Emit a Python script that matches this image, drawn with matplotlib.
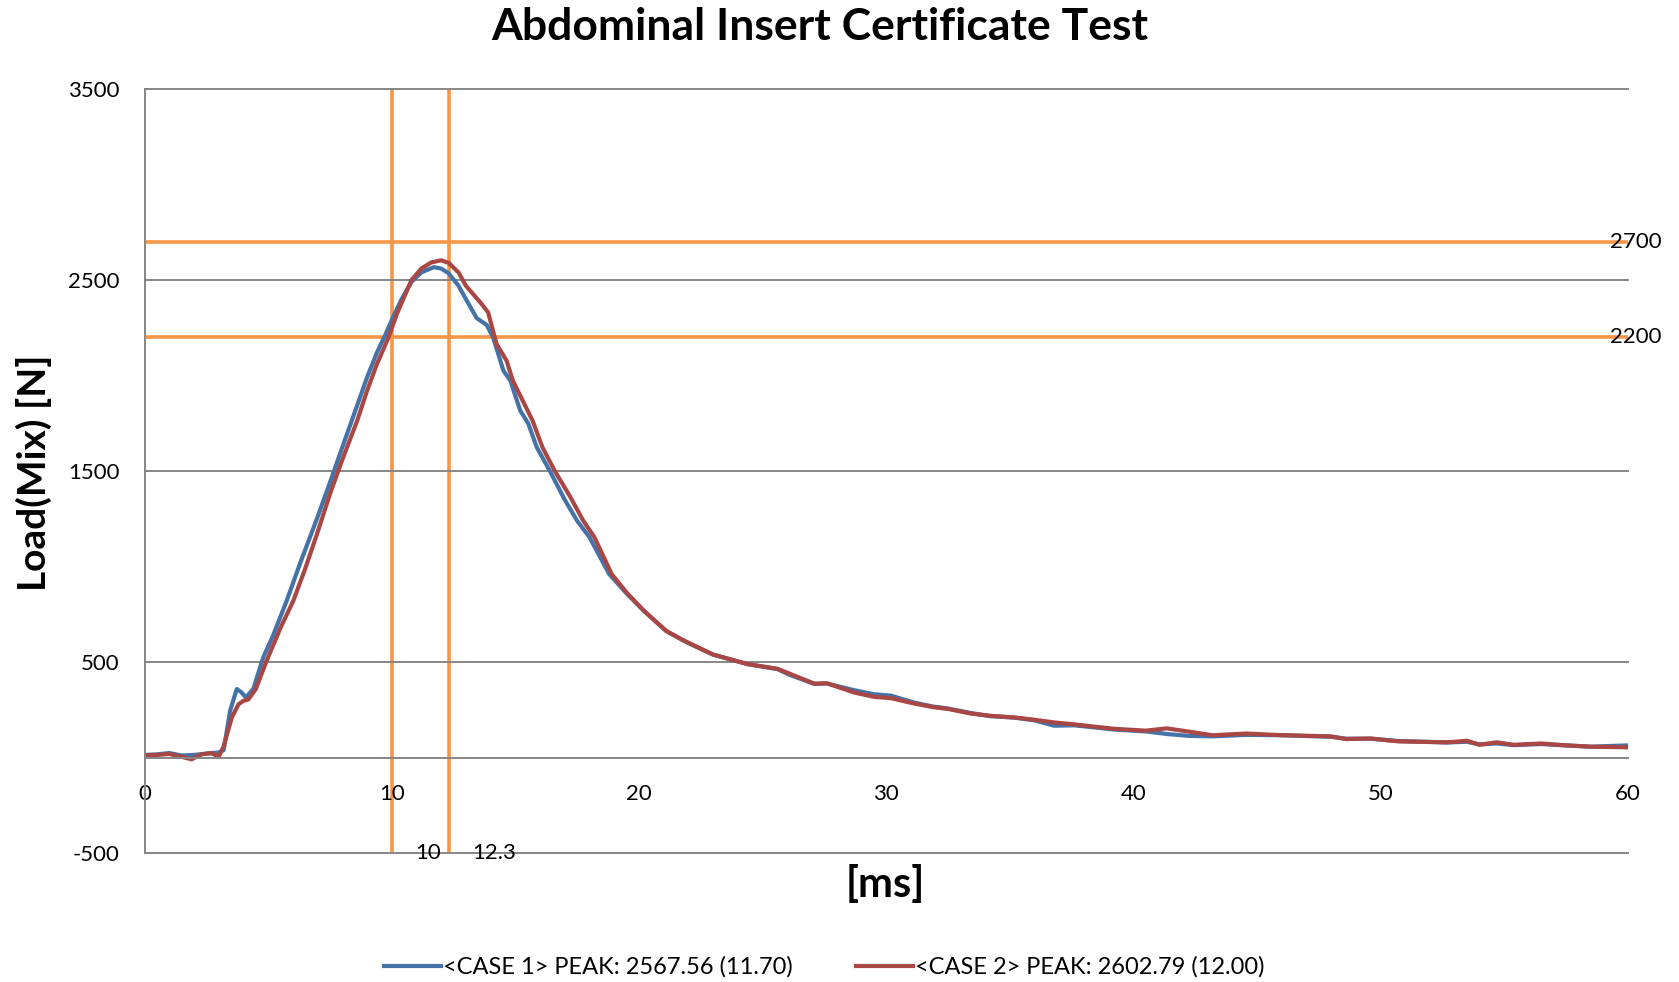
import numpy as np
import matplotlib.pyplot as plt

plt.rcParams['font.family'] = ['Lato', 'DejaVu Sans']
plt.rcParams['axes.unicode_minus'] = False

# CASE 1 (blue) time [ms] / load [N]
t1 = [0, 0.5, 1.0, 1.5, 2.0, 2.5, 3.0, 3.2, 3.46, 3.73, 3.9, 4.1, 4.4, 4.8, 5.2,
      5.75, 6.3, 7.0, 7.5, 8.0, 8.4, 9.0, 9.4, 9.73, 10.0, 10.4, 10.8, 11.2, 11.7,
      12.0, 12.3, 12.7, 13.0, 13.44, 13.84, 14.1, 14.52, 14.8, 15.2, 15.52, 15.87,
      16.4, 17.0, 17.5, 18.0, 18.8, 19.5, 20.2, 21.1, 22.0, 23.0, 24.4, 25.6, 26.1,
      27.1, 27.6, 28.7, 29.5, 30.2, 31.1, 31.9, 32.5, 33.4, 34.2, 35.2, 36.0, 36.8,
      37.6, 38.5, 39.2, 40.5, 41.4, 42.2, 43.2, 44.6, 45.9, 48.0, 48.6, 49.6, 50.7,
      52.7, 53.5, 54.0, 54.7, 55.4, 56.5, 57.3, 58.5, 60.0]
load1 = [15, 18, 25, 12, 15, 22, 28, 40, 246, 360, 345, 316, 360, 525, 640,
         822, 1020, 1260, 1440, 1625, 1770, 1990, 2120, 2210, 2290, 2400, 2490, 2540, 2567,
         2560, 2535, 2470, 2400, 2300, 2265, 2200, 2025, 1973, 1816, 1750, 1624,
         1500, 1350, 1240, 1154, 961, 860, 769, 664, 600, 540, 490, 464, 434,
         386, 389, 354, 333, 325, 290, 268, 258, 235, 218, 210, 196, 168,
         170, 158, 148, 138, 124, 115, 112, 120, 118, 110, 100, 100, 88,
         80, 84, 70, 75, 66, 72, 66, 58, 65]

# CASE 2 (red)
t2 = [0, 0.5, 1.0, 1.5, 1.9, 2.3, 2.7, 3.0, 3.2, 3.53, 3.8, 4.0, 4.2, 4.5, 4.94,
      5.5, 6.02, 6.5, 7.0, 7.5, 8.0, 8.6, 9.0, 9.4, 9.87, 10.2, 10.8, 11.2, 11.6,
      12.0, 12.3, 12.7, 13.0, 13.64, 13.9, 14.24, 14.65, 14.9, 15.5, 15.7, 16.1,
      16.6, 17.2, 17.75, 18.2, 18.9, 19.5, 20.2, 21.1, 21.7, 23.0, 24.4, 25.6, 26.1,
      27.1, 27.6, 28.7, 29.5, 30.2, 31.1, 31.9, 32.5, 33.4, 34.2, 35.2, 36.0, 36.8,
      37.6, 38.5, 39.2, 40.5, 41.35, 42.2, 43.2, 44.6, 45.9, 48.0, 48.6, 49.6, 50.7,
      52.7, 53.5, 54.0, 54.7, 55.4, 56.5, 57.3, 58.5, 60.0]
load2 = [12, 15, 20, 5, -8, 18, 25, 5, 60, 211, 280, 298, 305, 360, 508,
         680, 822, 990, 1180, 1380, 1560, 1763, 1920, 2060, 2200, 2320, 2500, 2560, 2592,
         2603, 2590, 2540, 2470, 2374, 2330, 2165, 2077, 1973, 1816, 1763, 1624,
         1500, 1370, 1240, 1154, 961, 865, 769, 664, 621, 540, 490, 466, 440,
         388, 390, 342, 319, 312, 285, 265, 256, 232, 220, 211, 199, 185,
         175, 162, 152, 142, 154, 138, 118, 127, 119, 112, 98, 101, 86,
         81, 89, 68, 81, 68, 75, 67, 58, 55]

labels = ["<CASE 1> PEAK: 2567.56 (11.70)", "<CASE 2> PEAK: 2602.79 (12.00)"]
limits_h = [2700, 2200]
limits_v = [10, 12.3]

grey = '#868686'
orange = '#F79646'

fig = plt.figure(figsize=(16.79, 9.82), dpi=100)
ax = fig.add_axes([0.0861, 0.1310, 0.8833, 0.7785])

ax.plot(t1, load1, color='#4572A7', lw=3.0, label=labels[0], solid_joinstyle='round')
ax.plot(t2, load2, color='#AA4643', lw=3.0, label=labels[1], solid_joinstyle='round')

for v in limits_h:
    ax.axhline(v, color=orange, lw=2.6, zorder=1)
    ax.text(59.3, v, str(v), fontsize=16, va='center', ha='left', clip_on=False)
for v in limits_v:
    ax.axvline(v, color=orange, lw=2.6, zorder=1)
    ax.annotate(f"{v:g}", (v, -500), xytext=(17, 0), textcoords='offset points',
                fontsize=16, va='center', ha='left', annotation_clip=False)

ax.set_xlim(0, 60)
ax.set_ylim(-500, 3500)
ax.set_xticks(np.arange(0, 61, 10))
ax.set_yticks(np.arange(-500, 3501, 1000))

ax.yaxis.grid(True, color=grey, lw=1.4, zorder=0)
for gl in ax.get_ygridlines():
    gl.set_clip_on(False)

ax.spines['right'].set_visible(False)
ax.spines['top'].set_visible(False)
ax.spines['left'].set_color(grey)
ax.spines['left'].set_linewidth(1.4)
ax.spines['bottom'].set_position(('data', 0))
ax.spines['bottom'].set_color(grey)
ax.spines['bottom'].set_linewidth(1.4)

ax.tick_params(axis='both', length=0, labelsize=16)
ax.tick_params(axis='x', pad=19)
ax.tick_params(axis='y', pad=18)

fig.text(0.4884, 0.9725, "Abdominal Insert Certificate Test", fontsize=32,
         fontweight='bold', va='center', ha='center')
fig.text(0.020, 0.519, "Load(Mix) [N]", rotation=90, fontsize=28, fontweight='bold',
         va='center', ha='center')
fig.text(0.527, 0.099, "[ms]", fontsize=30, fontweight='bold', va='center', ha='center')

fig.legend(loc='center', bbox_to_anchor=(0.491, 0.015), ncol=2, frameon=False,
           fontsize=17, handlelength=2.4, handletextpad=0.1, columnspacing=2.7)

fig.savefig('out.png', dpi=100)
